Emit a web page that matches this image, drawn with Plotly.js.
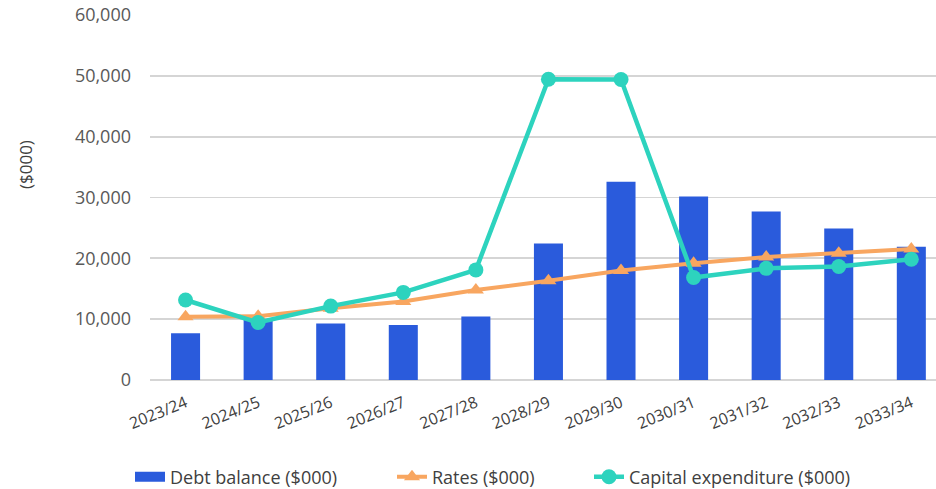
<!DOCTYPE html>
<html>
<head>
<meta charset="utf-8">
<script src="https://cdn.plot.ly/plotly-3.0.1.min.js"></script>
<style>html,body{margin:0;padding:0;background:#fff;}#chart{width:936px;height:489px;}</style>
</head>
<body>
<div id="chart"></div>
<script>
const years = ["2023/24","2024/25","2025/26","2026/27","2027/28","2028/29","2029/30","2030/31","2031/32","2032/33","2033/34"];
const debtBalance = [7700, 10000, 9300, 9050, 10450, 22450, 32600, 30150, 27700, 24900, 21900];
const rates = [10400, 10500, 11800, 12900, 14800, 16300, 18000, 19200, 20200, 20850, 21550];
const capex = [13150, 9450, 12150, 14400, 18100, 49450, 49400, 16850, 18350, 18650, 19850];

const font = "'Open Sans', 'DejaVu Sans', sans-serif";
const blue = '#2A5BDC', orange = '#F8A660', teal = '#2DD3BE';
const traces = [
  {type:'bar', x:years, y:debtBalance, name:'Debt balance ($000)', marker:{color:blue}, width:0.4,
   showlegend:false, legendgroup:'debt'},
  // legend-only entry giving the wide rectangular swatch for the bars
  {type:'scatter', mode:'lines', x:[years[0]], y:[null], name:'Debt balance ($000)', legendgroup:'debt',
   line:{color:blue, width:11}, legend:'legend'},
  {type:'scatter', mode:'lines+markers', x:years, y:rates, name:'Rates ($000)', legend:'legend2',
   line:{color:orange, width:4}, marker:{symbol:'triangle-up', size:14, color:orange}},
  {type:'scatter', mode:'lines+markers', x:years, y:capex, name:'Capital expenditure ($000)', legend:'legend3',
   line:{color:teal, width:4.5}, marker:{symbol:'circle', size:15, color:teal}}
];
function leg(px){
  return {orientation:'h', xref:'container', yref:'container', x:px/936, y:1-477/489,
          xanchor:'left', yanchor:'middle', font:{size:18, color:'#404040'}, bgcolor:'rgba(0,0,0,0)'};
}
const layout = {
  width:936, height:489,
  margin:{l:150, r:0, t:15, b:109},
  paper_bgcolor:'#fff', plot_bgcolor:'#fff',
  font:{family:font, color:'#595959', size:15},
  showlegend:true,
  legend:leg(130), legend2:leg(392), legend3:leg(589),
  xaxis:{type:'category', range:[-0.49, 10.34], tickangle:-22, showgrid:false, zeroline:false,
         showline:false, ticks:'', ticklabelstandoff:10, tickfont:{size:16, color:'#404040'}},
  yaxis:{range:[0,60000], dtick:10000, tickformat:',d', gridcolor:'#D5D5D5', gridwidth:1.8,
         zeroline:true, zerolinecolor:'#D5D5D5', zerolinewidth:1.8, ticklabelstandoff:18,
         tickfont:{size:18, color:'#595959'}},
  annotations:[{text:'($000)', textangle:-90, xref:'paper', yref:'paper', x:-0.159, y:0.589,
    xanchor:'center', yanchor:'middle', showarrow:false, font:{size:17, color:'#404040'}}]
};
Plotly.newPlot('chart', traces, layout, {displayModeBar:false, staticPlot:true});
</script>
</body>
</html>
